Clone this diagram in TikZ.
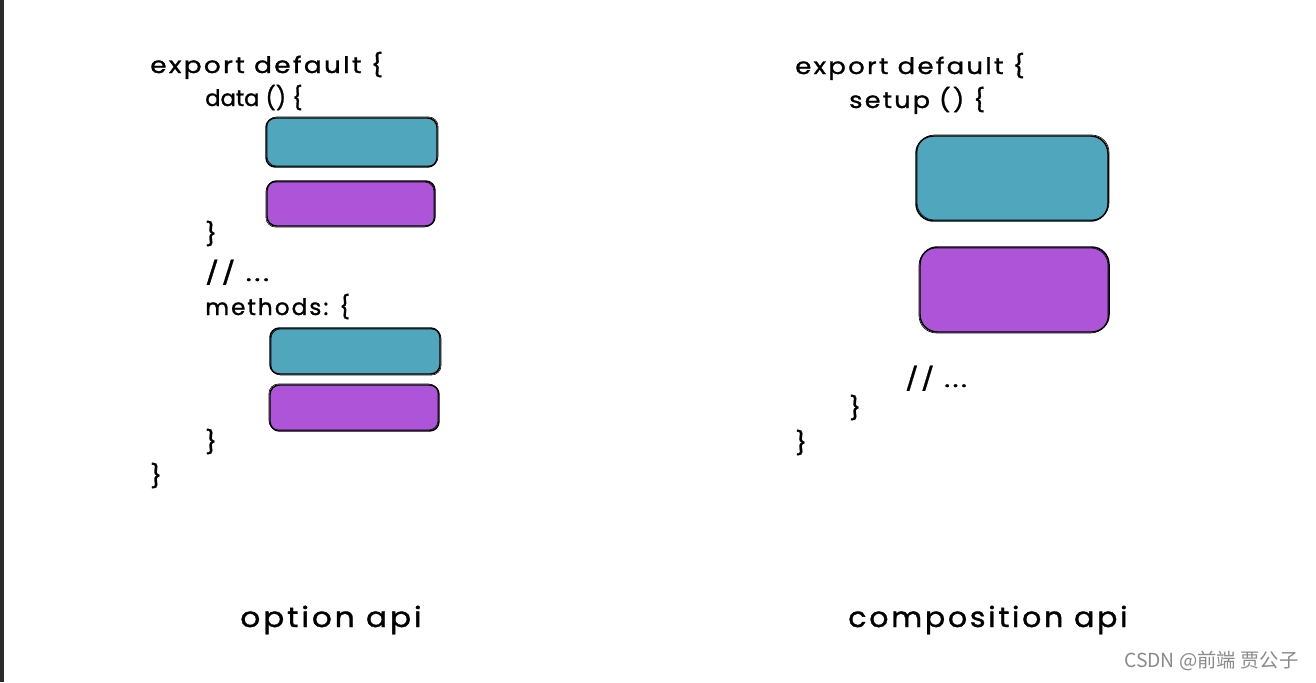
\documentclass[tikz,border=0pt]{standalone}
\usepackage{fontspec}
\setmainfont{Poppins}[FakeStretch=1.12, FakeBold=1.2, LetterSpace=10]
\newfontfamily\plainf{Poppins}[FakeBold=1.2]
\newfontfamily\cjkfont{Noto Sans CJK SC}
\definecolor{tealc}{HTML}{4FA6BD}
\definecolor{purc}{HTML}{AE54D8}
\definecolor{barc}{HTML}{2B2B2B}
\definecolor{wmc}{HTML}{8A8A8A}
\tikzset{
  code/.style={anchor=base west, inner sep=0pt, font=\fontsize{17}{20}\selectfont},
  title/.style={anchor=base west, inner sep=0pt, font=\fontsize{21}{24}\selectfont},
  boxs/.style={draw=black, line width=1.1pt, rounded corners=#1},
  boxt/.style={draw=black, line width=0.45pt, rounded corners=#1},
}
\newcommand{\sx}[2]{\scalebox{#1}[1]{#2}}
\newcommand{\skbox}[6]{%
  \fill[#5, rounded corners=#6] (#1) rectangle (#2);
  \draw[boxs=#6] (#1) rectangle (#2);
  \draw[boxt=#6, shift={(#3,#4)}] (#1) rectangle (#2);
}
\begin{document}
\begin{tikzpicture}[x=0.75pt,y=-0.75pt]
\useasboundingbox (0,0) rectangle (1316,682);
\fill[white] (0,0) rectangle (1316,682);
\fill[barc] (0,0) rectangle (4,682);
% left code
\node[code] (l1) at (150,73) {\sx{1.035}{export default \{}};
\node[code] (l2) at (205,106) {\plainf data () \{};
\node[code] (l3) at (205,242) {\}};
\node[code] (l4) at (205,281) {\sx{1.14}{// ...}};
\node[code] (l5) at (205,315) {\sx{0.91}{methods: \{}};
\node[code] (l6) at (205,450) {\}};
\node[code] (l7) at (150,484) {\}};
\skbox{266,118}{437,167}{1}{-1}{tealc}{7}
\skbox{267,181}{435,226}{-1}{1}{purc}{7}
\skbox{270,328}{440,374}{1}{1}{tealc}{7}
\skbox{270,385}{439,431}{-1}{-1}{purc}{7}
% right code
\node[code] (r1) at (795,74) {\sx{1.02}{export default \{}};
\node[code] (r2) at (849,108) {setup () \{};
\node[code] (r3) at (905,387) {\sx{1.1}{// ...}};
\node[code] (r4) at (849,416) {\}};
\node[code] (r5) at (795,451) {\}};
\skbox{916,136}{1108,221}{1}{-1}{tealc}{13}
\skbox{920,247}{1109,332}{-1}{1}{purc}{13}
% titles
\node[title] (t1) at (240,627) {option api};
\node[title] (t2) at (848,627) {\sx{0.96}{composition api}};
% watermark
\node[anchor=base west, inner sep=0pt, text=wmc, font=\cjkfont\fontsize{14.5}{16}\selectfont] (wm) at (1124,667) {CSDN @前端 贾公子};
\end{tikzpicture}
\end{document}
